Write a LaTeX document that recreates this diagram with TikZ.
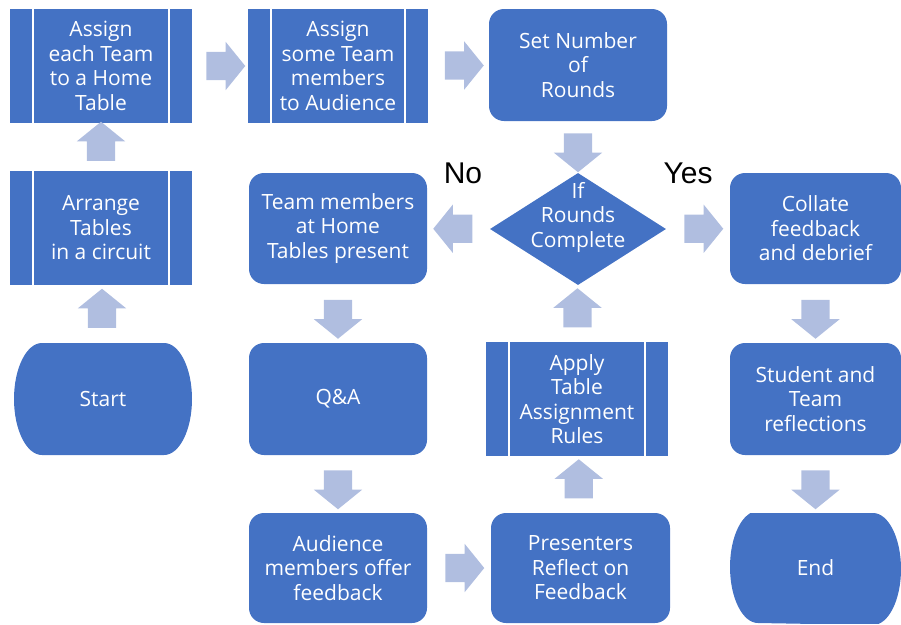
\documentclass[tikz,border=0pt]{standalone}
\usepackage{fontspec}
\setmainfont{Open Sans}
\newfontfamily\arialfont{Liberation Sans}
\usetikzlibrary{shapes.geometric,shapes.arrows,calc}

\definecolor{boxblu}{RGB}{68,114,196}
\definecolor{frecciablu}{RGB}{176,190,224}

\tikzset{
  testo/.style={text=white, align=center, inner sep=0pt,
    font=\fontsize{21}{24.5}\selectfont},
  scatola/.style={testo, fill=boxblu, minimum width=180pt, minimum height=112pt},
  arrotondata/.style={scatola, rounded corners=15pt},
  % rettangolo con le due righe bianche verticali
  processo/.style={scatola, path picture={
      \draw[white, line width=1.6pt]
        ([xshift=23pt]path picture bounding box.north west) --
        ([xshift=23pt]path picture bounding box.south west);
      \draw[white, line width=1.6pt]
        ([xshift=-23pt]path picture bounding box.north east) --
        ([xshift=-23pt]path picture bounding box.south east);}},
  % inizio / fine con i lati curvi
  terminale/.style={testo, minimum width=178pt, minimum height=112pt, path picture={
      \fill[boxblu]
        ([xshift=28pt]path picture bounding box.north west) --
        ([xshift=-28pt]path picture bounding box.north east)
        arc[start angle=90, end angle=-90, x radius=28pt, y radius=56pt] --
        ([xshift=28pt]path picture bounding box.south west)
        arc[start angle=270, end angle=90, x radius=28pt, y radius=56pt] -- cycle;}},
  rombo/.style={diamond, fill=boxblu, inner sep=0pt, minimum width=176pt, minimum height=112pt},
  % corpo largo 28pt, punta larga 48pt
  freccia/.style={single arrow, fill=frecciablu, inner xsep=0pt, inner ysep=14pt,
    minimum height=39pt, single arrow head extend=10pt, single arrow tip angle=102},
  risposta/.style={font=\arialfont\fontsize{30}{36}\selectfont, inner sep=0pt},
}

\begin{document}
\begin{tikzpicture}[x=1pt, y=-1pt]
\useasboundingbox (0,0) rectangle (901,624);

% Prima colonna
\node[processo, minimum width=182pt, minimum height=114pt] (assegna) at (101,66) {Assign\\each Team\\to a Home\\Table};
\node[processo, minimum width=182pt, minimum height=114pt] (disponi) at (101,228) {Arrange\\Tables\\in a circuit};
\node[terminale] (inizio) at (103,399) {Start};

% Seconda colonna
\node[processo, minimum height=114pt] (pubblico) at (338,66) {Assign\\some Team\\members\\to Audience};
\node[arrotondata, minimum width=178pt, minimum height=111pt] (presentano) at (338,228.5) {Team members\\at Home\\Tables present};
\node[arrotondata, minimum width=178pt] (qa) at (338,399) {Q\&A};
\node[arrotondata, minimum width=178pt, minimum height=110pt] (offrono) at (338,568) {Audience\\members offer\\feedback};

% Terza colonna
\node[arrotondata, minimum width=178pt] (giri) at (578,65) {Set Number\\of\\Rounds};
\node[rombo] (controllo) at (578,229) {};
\node[testo] (controllotesto) at ([yshift=12pt]controllo.center) {If\\Rounds\\Complete};
\node[processo, minimum width=182pt, minimum height=114pt] (regole) at (577,399) {Apply\\Table\\Assignment\\Rules};
\node[arrotondata, minimum width=179pt, minimum height=110pt] (riflettono) at (580.5,568) {Presenters\\Reflect on\\Feedback};

% Quarta colonna
\node[arrotondata, minimum width=171pt, minimum height=111pt] (raccolta) at (815.5,228.5) {Collate\\feedback\\and debrief};
\node[arrotondata, minimum width=171pt] (riflessioni) at (815.5,399) {Student and\\Team\\reflections};
\node[terminale, minimum width=171pt, minimum height=110pt] (fine) at (815.5,568) {End};

\node[risposta] (no) at (463,173) {No};
\node[risposta] (si) at (688,173) {Yes};

% Frecce tra i blocchi: partenza/ancora/arrivo/ancora/rotazione
\foreach \a/\da/\b/\db/\rot in {
    assegna/east/pubblico/west/0, pubblico/east/giri/west/0,
    controllo/east/raccolta/west/0, offrono/east/riflettono/west/0,
    controllo/west/presentano/east/180,
    disponi/north/assegna/south/90, inizio/north/disponi/south/90,
    regole/north/controllo/south/90, riflettono/north/regole/south/90,
    giri/south/controllo/north/270, presentano/south/qa/north/270,
    qa/south/offrono/north/270, raccolta/south/riflessioni/north/270,
    riflessioni/south/fine/north/270} {
  \node[freccia, rotate=\rot] at ($(\a.\da)!0.5!(\b.\db)$) {};
}

\end{tikzpicture}
\end{document}
